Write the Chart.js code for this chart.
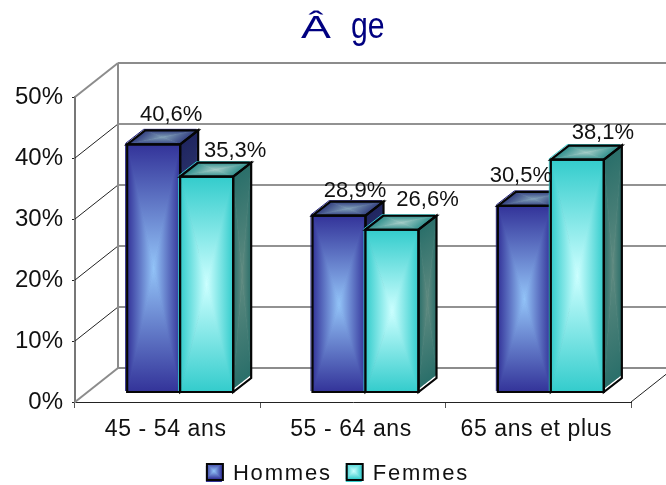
<!DOCTYPE html>
<html lang="fr">
<head>
    <meta charset="UTF-8">
    <title>Âge</title>
    <style>
        html, body { margin: 0; padding: 0; background: #fff; }
        #wrap { width: 666px; height: 485px; }
    </style>
</head>
<body>
    <div id="wrap"><canvas id="myChart" width="666" height="485"></canvas></div>

    <script src="https://cdn.jsdelivr.net/npm/chart.js@4/dist/chart.umd.min.js"></script>
    <script>
        const categories = ['45 - 54 ans', '55 - 64 ans', '65 ans et plus'];
        const hommes = [40.6, 28.9, 30.5];
        const femmes = [35.3, 26.6, 38.1];
        const yTicks = [0, 10, 20, 30, 40, 50];

        // hand placement of the value labels, relative to the top of each bar
        const labelNudgeX = [[30, 28.5, 9], [41, 48, 38]];
        const labelNudgeY = [[23, 19, 24], [20, 24, 21]];

        const font = '"Liberation Sans", Arial, sans-serif';

        // 3d box look, one palette per series
        const looks = [
            {
                front: ['#333399', '#93c4f8'],
                top: ['#333f80', '#7f9fb8'],
                side: ['#1f2560', '#3d4a7c'],
                rim: '#1c1c80'
            },
            {
                front: ['#33cccc', '#ccffff'],
                top: ['#2f8f8c', '#a2cbc6'],
                side: ['#2a6f6a', '#5f8a80'],
                rim: '#33cccc'
            }
        ];

        const barDepthX = 18;
        const barDepthY = 14;
        const barShiftX = 12.5;
        const wallDepthX = 43;
        const wallDepthY = 34;
        const legendShiftX = 22;

        // rectangular "path" gradient: every side of the polygon fades to its centre
        function paintFace(ctx, pts, colors) {
            const cx = pts.reduce((s, p) => s + p[0], 0) / pts.length;
            const cy = pts.reduce((s, p) => s + p[1], 0) / pts.length;

            ctx.save();
            ctx.beginPath();
            pts.forEach((p, i) => i ? ctx.lineTo(p[0], p[1]) : ctx.moveTo(p[0], p[1]));
            ctx.closePath();
            ctx.clip();

            pts.forEach((a, i) => {
                const b = pts[(i + 1) % pts.length];
                const ex = b[0] - a[0];
                const ey = b[1] - a[1];
                const t = ((cx - a[0]) * ex + (cy - a[1]) * ey) / (ex * ex + ey * ey);
                const g = ctx.createLinearGradient(a[0] + ex * t, a[1] + ey * t, cx, cy);
                g.addColorStop(0, colors[0]);
                g.addColorStop(1, colors[1]);
                ctx.beginPath();
                ctx.moveTo(a[0], a[1]);
                ctx.lineTo(b[0], b[1]);
                ctx.lineTo(cx, cy);
                ctx.closePath();
                ctx.fillStyle = g;
                ctx.strokeStyle = g;
                ctx.lineWidth = 0.8;
                ctx.fill();
                ctx.stroke();
            });
            ctx.restore();
        }

        function outline(ctx, pts, color, width, open) {
            ctx.beginPath();
            pts.forEach((p, i) => i ? ctx.lineTo(p[0], p[1]) : ctx.moveTo(p[0], p[1]));
            if (!open) ctx.closePath();
            ctx.lineWidth = width;
            ctx.strokeStyle = color;
            ctx.lineJoin = 'miter';
            ctx.stroke();
        }

        function wrapped(ctx, px, dx, dy, fn) {
            ctx.save();
            ctx.letterSpacing = px + 'px';
            ctx.translate(dx, dy);
            fn();
            ctx.restore();
        }

        const box3d = {
            id: 'box3d',
            beforeLayout(chart) {
                const legend = chart.legend;
                if (legend && !legend._wrapped) {
                    legend._wrapped = true;
                    const fit = legend.fit;
                    const draw = legend.draw;
                    legend.fit = function () { wrapped(chart.ctx, 1.8, 0, 0, () => fit.call(this)); };
                    legend.draw = function () { wrapped(chart.ctx, 1.8, legendShiftX, 0, () => draw.call(this)); };
                }
            },
            afterLayout(chart) {
                const xs = chart.scales.x;
                if (!xs._wrapped) {
                    xs._wrapped = true;
                    const xl = xs.drawLabels;
                    xs.drawLabels = function (area) { wrapped(chart.ctx, 0.6, -2, 0, () => xl.call(this, area)); };
                }
            },
            beforeDatasetsDraw(chart) {
                const ctx = chart.ctx;
                const area = chart.chartArea;
                const y = chart.scales.y;
                const zero = y.getPixelForValue(0);
                const top = y.getPixelForValue(50);

                ctx.save();
                yTicks.forEach(v => {
                    const py = y.getPixelForValue(v);
                    const by = py - wallDepthY;
                    const edge = v === yTicks[0] || v === yTicks[yTicks.length - 1];

                    ctx.beginPath();
                    ctx.moveTo(area.left + wallDepthX, by);
                    ctx.lineTo(area.right + wallDepthX, by);
                    ctx.lineWidth = edge ? 2 : 1.5;
                    ctx.strokeStyle = edge ? '#8c8c8c' : '#6e6e6e';
                    ctx.stroke();

                    ctx.beginPath();
                    ctx.moveTo(area.left, py);
                    ctx.lineTo(area.left + wallDepthX, by);
                    ctx.lineWidth = edge ? 2 : 1;
                    ctx.strokeStyle = edge ? '#8c8c8c' : '#222';
                    ctx.stroke();
                });

                ctx.beginPath();
                ctx.moveTo(area.left + wallDepthX, zero - wallDepthY);
                ctx.lineTo(area.left + wallDepthX, top - wallDepthY);
                ctx.lineWidth = 2;
                ctx.strokeStyle = '#8c8c8c';
                ctx.stroke();

                ctx.beginPath();
                ctx.moveTo(area.right, zero);
                ctx.lineTo(area.right + wallDepthX, zero - wallDepthY);
                ctx.lineWidth = 1;
                ctx.strokeStyle = '#222';
                ctx.stroke();
                ctx.restore();

                // the boxes stand a little way back from the front of the floor
                ctx.save();
                ctx.translate(barShiftX, 0);
            },
            afterDatasetsDraw(chart) {
                const ctx = chart.ctx;

                // faces go on in series order so Femmes covers the side of Hommes
                chart.data.datasets.forEach((ds, i) => {
                    const look = looks[i];
                    chart.getDatasetMeta(i).data.forEach(bar => {
                        const p = bar.getProps(['x', 'y', 'base', 'width'], true);
                        const l = p.x - p.width / 2;
                        const r = p.x + p.width / 2;
                        const front = [[l, p.y], [r, p.y], [r, p.base], [l, p.base]];
                        const top = [[l, p.y], [l + barDepthX, p.y - barDepthY], [r + barDepthX, p.y - barDepthY], [r, p.y]];
                        const side = [[r, p.y], [r + barDepthX, p.y - barDepthY], [r + barDepthX, p.base - barDepthY], [r, p.base]];
                        const sideFill = [[r, p.y], [r + barDepthX, p.y - barDepthY], [r + barDepthX, p.base - barDepthY - 3], [r, p.base - 3]];

                        // white wedge left under the side face
                        paintFace(ctx, side, ['#fff', '#fff']);
                        paintFace(ctx, sideFill, look.side);
                        paintFace(ctx, top, look.top);
                        paintFace(ctx, front, look.front);

                        // thin coloured rim, sticks out on the top left
                        ctx.save();
                        ctx.translate(-1.5, -1);
                        outline(ctx, [[l, p.base], [l, p.y], [l + barDepthX, p.y - barDepthY], [r + barDepthX, p.y - barDepthY]], look.rim, 1, true);
                        ctx.restore();

                        outline(ctx, side, '#050505', 2.2);
                        outline(ctx, top, '#050505', 2.2);
                        outline(ctx, front, '#050505', 2.2);
                    });
                });
                ctx.restore();

                ctx.save();
                ctx.font = '22px ' + font;
                ctx.fillStyle = '#111';
                ctx.textAlign = 'center';
                ctx.textBaseline = 'alphabetic';
                chart.data.datasets.forEach((ds, i) => {
                    chart.getDatasetMeta(i).data.forEach((bar, j) => {
                        const text = ds.data[j].toFixed(1).replace('.', ',') + '%';
                        ctx.fillText(text, bar.x + labelNudgeX[i][j], bar.y - labelNudgeY[i][j]);
                    });
                });
                ctx.restore();
            },
            afterDraw(chart) {
                const ctx = chart.ctx;

                // legend swatches get the same shading as the boxes
                chart.legend.legendHitBoxes.forEach((h, i) => {
                    const x = h.left + legendShiftX;
                    const s = [[x, h.top], [x + 16, h.top], [x + 16, h.top + 16], [x, h.top + 16]];
                    paintFace(ctx, s, looks[i].front);
                    outline(ctx, s.map(q => [q[0] + 1, q[1] + 1]), '#050505', 2);
                });

                // title: the capital falls back to a wide face, "ge" is condensed
                ctx.save();
                ctx.fillStyle = '#000080';
                ctx.textBaseline = 'alphabetic';
                ctx.textAlign = 'left';
                ctx.font = '32px ' + font;
                ctx.save();
                ctx.translate(301, 38);
                ctx.scale(1.4, 1);
                ctx.fillText('Â', 0, 0);
                ctx.restore();
                ctx.font = '36px ' + font;
                ctx.translate(351, 38);
                ctx.scale(0.84, 1);
                ctx.fillText('ge', 0, 0);
                ctx.restore();
            }
        };

        new Chart(document.getElementById('myChart'), {
            type: 'bar',
            data: {
                labels: categories,
                datasets: [
                    { label: 'Hommes', data: hommes, yAxisID: 'yBar', backgroundColor: '#333399' },
                    { label: 'Femmes', data: femmes, yAxisID: 'yBar', backgroundColor: '#33cccc' }
                ]
            },
            options: {
                responsive: false,
                animation: false,
                devicePixelRatio: 1,
                categoryPercentage: 0.572,
                barPercentage: 1,
                layout: { padding: { top: 97, right: 35, left: 0, bottom: -10 } },
                plugins: {
                    tooltip: { enabled: false },
                    legend: {
                        position: 'bottom',
                        labels: {
                            boxWidth: 16,
                            boxHeight: 16,
                            padding: 14,
                            color: '#111',
                            font: { family: font, size: 22 }
                        }
                    }
                },
                scales: {
                    x: {
                        afterFit(scale) { scale.height = 47; },
                        grid: { display: true, drawOnChartArea: false, tickLength: 6, color: '#555', lineWidth: 1 },
                        border: { color: '#222', width: 1 },
                        ticks: { color: '#111', padding: 8, maxRotation: 0, font: { family: font, size: 23 } }
                    },
                    y: {
                        min: 0,
                        max: 50,
                        afterFit(scale) { scale.width = 75; },
                        grid: { display: true, drawOnChartArea: false, tickLength: 3, color: '#222', lineWidth: 1 },
                        border: { color: '#777', width: 2 },
                        afterBuildTicks(scale) { scale.ticks = yTicks.map(v => ({ value: v })); },
                        ticks: {
                            color: '#111',
                            padding: 9,
                            font: { family: font, size: 24 },
                            callback: v => v + '%'
                        }
                    },
                    // the boxes stand on a floor line above the front axis
                    yBar: {
                        display: false,
                        min: -1.639,
                        max: 48.36
                    }
                }
            },
            plugins: [box3d]
        });
    </script>
</body>
</html>
